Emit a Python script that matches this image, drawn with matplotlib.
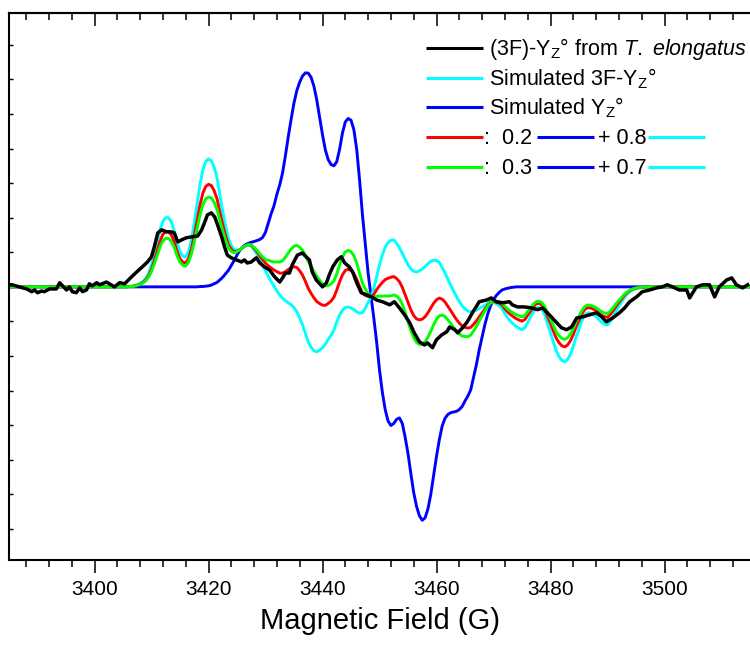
import numpy as np
import matplotlib
matplotlib.use("Agg")
import matplotlib.pyplot as plt
from matplotlib.ticker import MultipleLocator

plt.rcParams['font.family'] = ['Liberation Sans', 'DejaVu Sans']
plt.rcParams['mathtext.fontset'] = 'custom'
plt.rcParams['mathtext.rm'] = 'Liberation Sans'
plt.rcParams['mathtext.it'] = 'Liberation Sans:italic'

# ---- data (field in G, intensity in arbitrary units) ----
sim_step = 0.5
sim_field = np.arange(3385.0, 3515.0 + sim_step / 2, sim_step)

# simulated Yz (blue), starts at 3418.0 G
blue_start = 3418.0
blue_active = [
    0.00, 0.01, 0.01, 0.02, 0.03, 0.05, 0.09, 0.13, 0.20, 0.28,
    0.38, 0.48, 0.62, 0.76, 0.92, 1.06, 1.15, 1.22, 1.26, 1.29,
    1.31, 1.34, 1.37, 1.43, 1.58, 1.85, 2.12, 2.35, 2.68, 2.95,
    3.30, 3.80, 4.35, 4.85, 5.32, 5.68, 5.92, 6.10, 6.19, 6.18,
    6.06, 5.80, 5.40, 4.90, 4.40, 3.96, 3.68, 3.54, 3.50, 3.62,
    3.98, 4.45, 4.77, 4.87, 4.82, 4.55, 3.98, 3.10, 2.10, 1.25,
    0.40, -0.25, -0.90, -1.60, -2.40, -3.05, -3.55, -3.88, -4.01, -3.95,
    -3.83, -3.79, -3.95, -4.35, -4.82, -5.40, -5.95, -6.35, -6.62, -6.75,
    -6.68, -6.42, -6.00, -5.45, -4.90, -4.42, -4.02, -3.80, -3.69, -3.64,
    -3.62, -3.60, -3.55, -3.46, -3.30, -3.16, -2.98, -2.62, -2.25, -1.82,
    -1.45, -1.08, -0.78, -0.54, -0.36, -0.25, -0.16, -0.09, -0.06, -0.04,
    -0.02, -0.01,
]

# simulated 3F-Yz (cyan), starts at 3406.0 G
cyan_start = 3406.0
cyan_active = [
    0.01, 0.02, 0.03, 0.06, 0.10, 0.16, 0.25, 0.40, 0.64, 0.95,
    1.30, 1.65, 1.90, 2.00, 2.00, 1.87, 1.62, 1.28, 1.02, 0.89,
    0.86, 1.02, 1.36, 1.85, 2.40, 2.95, 3.38, 3.62, 3.70, 3.65,
    3.45, 3.15, 2.65, 2.18, 1.75, 1.40, 1.20, 1.08, 1.06, 1.08,
    1.13, 1.18, 1.21, 1.18, 1.07, 0.94, 0.78, 0.62, 0.46, 0.30,
    0.15, 0.02, -0.12, -0.24, -0.33, -0.40, -0.46, -0.52, -0.60, -0.72,
    -0.90, -1.10, -1.35, -1.60, -1.75, -1.85, -1.88, -1.83, -1.76, -1.66,
    -1.52, -1.40, -1.25, -1.02, -0.81, -0.68, -0.60, -0.58, -0.61, -0.66,
    -0.72, -0.76, -0.75, -0.62, -0.45, -0.30, -0.05, 0.30, 0.64, 0.92,
    1.15, 1.28, 1.35, 1.36, 1.26, 1.13, 0.97, 0.80, 0.64, 0.52,
    0.45, 0.43, 0.46, 0.52, 0.59, 0.67, 0.74, 0.77, 0.76, 0.70,
    0.56, 0.40, 0.22, 0.05, -0.12, -0.28, -0.42, -0.55, -0.64, -0.70,
    -0.72, -0.70, -0.67, -0.63, -0.58, -0.53, -0.47, -0.43, -0.44, -0.49,
    -0.55, -0.63, -0.78, -0.90, -1.00, -1.08, -1.15, -1.20, -1.24, -1.18,
    -1.03, -0.88, -0.72, -0.61, -0.60, -0.65, -0.82, -1.08, -1.32, -1.60,
    -1.85, -2.02, -2.13, -2.17, -2.10, -1.95, -1.72, -1.45, -1.22, -0.98,
    -0.82, -0.75, -0.76, -0.80, -0.86, -0.95, -1.03, -1.08, -1.10, -1.00,
    -0.86, -0.70, -0.56, -0.43, -0.30, -0.20, -0.13, -0.08, -0.05, -0.03,
    -0.02, -0.01,
]

# mixture weights from the legend (Yz : 3F-Yz)
mix_red = [0.2, 0.8]
mix_green = [0.3, 0.7]

# experimental (3F)-Yz from T. elongatus
exp_field = [
    3384.6, 3385.6, 3386.8, 3388.1, 3389.0, 3389.5, 3390.0, 3390.7, 3391.2, 3392.1,
    3393.3, 3393.9, 3394.4, 3395.1, 3395.6, 3396.1, 3396.8, 3397.4, 3397.9, 3398.6,
    3399.1, 3399.6, 3400.4, 3400.9, 3402.1, 3403.5, 3404.4, 3405.3, 3406.5, 3407.4,
    3408.4, 3409.3, 3410.0, 3410.5, 3411.1, 3411.8, 3412.6, 3413.5, 3414.0, 3414.6,
    3415.3, 3416.1, 3417.2, 3418.1, 3418.8, 3419.5, 3419.8, 3420.5, 3421.1, 3421.6,
    3422.3, 3422.8, 3423.3, 3424.0, 3424.9, 3425.8, 3426.3, 3426.8, 3427.5, 3428.4,
    3429.0, 3429.8, 3430.7, 3431.6, 3432.5, 3433.0, 3433.5, 3434.2, 3434.7, 3435.6,
    3436.5, 3436.8, 3437.7, 3438.2, 3438.9, 3440.0, 3440.7, 3441.2, 3441.8, 3442.6,
    3443.3, 3443.9, 3444.7, 3445.3, 3446.0, 3446.8, 3447.7, 3448.6, 3449.5, 3450.5,
    3451.8, 3452.6, 3453.5, 3454.4, 3455.3, 3456.1, 3457.0, 3457.9, 3458.4, 3459.3,
    3460.0, 3460.9, 3461.8, 3462.3, 3463.2, 3463.7, 3464.6, 3465.4, 3466.3, 3467.5,
    3468.8, 3469.6, 3470.5, 3471.6, 3472.8, 3473.3, 3474.2, 3475.4, 3476.7, 3477.7,
    3478.6, 3479.8, 3481.1, 3481.9, 3482.8, 3483.7, 3484.6, 3485.6, 3486.8, 3488.1,
    3489.0, 3489.8, 3490.9, 3492.1, 3493.0, 3493.9, 3495.1, 3496.1, 3497.4, 3498.6,
    3499.6, 3500.5, 3501.4, 3502.6, 3503.9, 3504.4, 3505.6, 3506.7, 3507.9, 3508.8,
    3509.6, 3510.9, 3511.8, 3512.6, 3513.7, 3514.6,
]
exp_signal = [
    0.06, 0.06, 0.00, -0.06, -0.14, -0.09, -0.17, -0.12, -0.14, -0.06,
    -0.06, 0.12, 0.03, -0.09, 0.00, -0.14, -0.17, -0.03, -0.14, -0.09,
    0.09, 0.03, 0.12, 0.06, 0.14, 0.00, 0.12, 0.09, 0.29, 0.43,
    0.58, 0.72, 0.87, 1.16, 1.56, 1.65, 1.59, 1.59, 1.56, 1.30,
    1.36, 1.42, 1.45, 1.47, 1.65, 1.94, 2.08, 2.14, 2.02, 1.79,
    1.45, 1.16, 0.92, 0.84, 0.78, 0.72, 0.78, 0.69, 0.72, 0.84,
    0.69, 0.58, 0.49, 0.29, 0.14, 0.26, 0.40, 0.40, 0.64, 0.92,
    0.98, 0.92, 0.78, 0.43, 0.20, 0.00, 0.12, 0.35, 0.58, 0.78,
    0.87, 0.69, 0.58, 0.43, 0.12, -0.17, -0.23, -0.29, -0.38, -0.43,
    -0.52, -0.43, -0.61, -0.81, -1.04, -1.33, -1.59, -1.68, -1.62, -1.76,
    -1.53, -1.39, -1.30, -1.16, -1.24, -1.33, -1.18, -1.01, -0.75, -0.43,
    -0.38, -0.32, -0.43, -0.46, -0.43, -0.52, -0.58, -0.58, -0.61, -0.66,
    -0.61, -0.81, -1.04, -1.18, -1.24, -1.16, -0.90, -0.87, -0.81, -0.75,
    -0.87, -1.01, -0.90, -0.75, -0.61, -0.43, -0.29, -0.14, -0.09, -0.03,
    0.00, 0.06, 0.00, -0.09, -0.09, -0.32, 0.00, 0.06, 0.06, -0.29,
    0.00, 0.20, 0.26, 0.06, -0.03, 0.06,
]

x_ticks_major = 20
x_ticks_minor = 4

# ---- build simulated arrays on the common grid ----
blue = np.zeros_like(sim_field)
i0 = int(round((blue_start - sim_field[0]) / sim_step))
blue[i0:i0 + len(blue_active)] = blue_active

cyan = np.zeros_like(sim_field)
i0 = int(round((cyan_start - sim_field[0]) / sim_step))
cyan[i0:i0 + len(cyan_active)] = cyan_active

red = mix_red[0] * blue + mix_red[1] * cyan
green = mix_green[0] * blue + mix_green[1] * cyan

C_BLACK = "#000000"
C_CYAN = "#00ffff"
C_BLUE = "#0000ff"
C_RED = "#ff0000"
C_GREEN = "#00ff00"

fig = plt.figure(figsize=(7.5, 6.48), dpi=100)
ax = fig.add_axes([0.012, 0.1358, 0.988, 0.8441])

lw = 2.1
ax.plot(sim_field, blue, color=C_BLUE, lw=lw)
ax.plot(sim_field, cyan, color=C_CYAN, lw=lw)
ax.plot(sim_field, red, color=C_RED, lw=lw)
ax.plot(sim_field, green, color=C_GREEN, lw=lw)
ax.plot(exp_field, exp_signal, color=C_BLACK, lw=2.5)

ax.set_xlim(3385, 3515)
ax.set_ylim(-7.9, 7.92)

for s in ["top", "bottom", "left"]:
    ax.spines[s].set_linewidth(1.5)
ax.spines["right"].set_visible(False)

ax.xaxis.set_major_locator(MultipleLocator(x_ticks_major))
ax.xaxis.set_minor_locator(MultipleLocator(x_ticks_minor))
ax.tick_params(axis="x", which="major", direction="out", length=9.5, width=1.1,
               labelsize=15, pad=5)
ax.tick_params(axis="x", which="minor", direction="out", length=5, width=1.1)

ax.yaxis.set_major_locator(MultipleLocator(1))
ax.tick_params(axis="y", which="major", direction="in", length=3, width=1,
               labelleft=False)

top = ax.secondary_xaxis("top")
top.xaxis.set_major_locator(MultipleLocator(x_ticks_major))
top.xaxis.set_minor_locator(MultipleLocator(x_ticks_minor))
top.tick_params(which="major", direction="in", length=9, width=1.1, labeltop=False)
top.tick_params(which="minor", direction="in", length=5, width=1.1)
top.spines["top"].set_linewidth(1.5)

ax.set_xlabel("Magnetic Field (G)", fontsize=21, labelpad=6)

# ---- hand-made legend (pixel layout of the original) ----
def to_ax(px, py):
    return (px - 9) / 741.0, (560 - py) / 547.0

def leg_line(px0, px1, py, color):
    x0, y = to_ax(px0, py)
    x1, _ = to_ax(px1, py)
    ax.plot([x0, x1], [y, y], color=color, lw=2.2, transform=ax.transAxes,
            clip_on=False, solid_capstyle="butt")

def leg_text(px, py, s):
    x, y = to_ax(px, py + 7)
    ax.text(x, y, s, transform=ax.transAxes, fontsize=15.5, va="baseline", ha="left")

rows = [48, 78, 107, 137, 167]
leg_line(426, 483, rows[0], C_BLACK)
leg_text(489, rows[0], r"(3F)-Y$_\mathrm{Z}$° from $\mathit{T.\ elongatus}$")
leg_line(426, 483, rows[1], C_CYAN)
leg_text(489, rows[1], r"Simulated 3F-Y$_\mathrm{Z}$°")
leg_line(426, 483, rows[2], C_BLUE)
leg_text(489, rows[2], r"Simulated Y$_\mathrm{Z}$°")

for row, c_mix, w in [(rows[3], C_RED, mix_red), (rows[4], C_GREEN, mix_green)]:
    leg_line(426, 483, row, c_mix)
    leg_text(484, row, ":  %.1f" % w[0])
    leg_line(537, 594, row, C_BLUE)
    leg_text(598, row, "+ %.1f" % w[1])
    leg_line(648, 705, row, C_CYAN)

fig.savefig("out.png", dpi=100)
